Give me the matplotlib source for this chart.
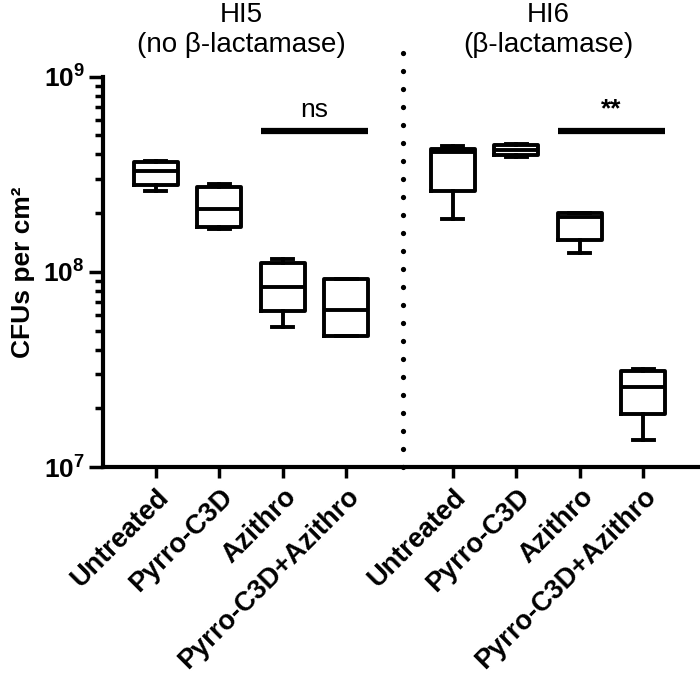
import matplotlib
matplotlib.use("Agg")
import matplotlib.pyplot as plt
import matplotlib.transforms as mtransforms
import numpy as np
from matplotlib.ticker import LogLocator, NullFormatter

plt.rcParams["font.family"] = ["Liberation Sans", "DejaVu Sans"]
plt.rcParams["mathtext.fontset"] = "custom"
plt.rcParams["mathtext.rm"] = "Liberation Sans:bold"
plt.rcParams["mathtext.bf"] = "Liberation Sans:bold"
plt.rcParams["mathtext.it"] = "Liberation Sans:bold"

# box statistics (CFUs per cm2)
categories = ["Untreated", "Pyrro-C3D", "Azithro", "Pyrro-C3D+Azithro"]
strains = ["HI5\n(no \u03b2-lactamase)", "HI6\n(\u03b2-lactamase)"]
signif = ["ns", "**"]

hi5_whislo = [2.61e8, 1.65e8, 5.24e7, 4.71e7]
hi5_q1     = [2.79e8, 1.70e8, 6.31e7, 4.71e7]
hi5_med    = [3.30e8, 2.10e8, 8.42e7, 6.38e7]
hi5_q3     = [3.66e8, 2.73e8, 1.11e8, 9.18e7]
hi5_whishi = [3.68e8, 2.83e8, 1.16e8, 9.18e7]

hi6_whislo = [1.87e8, 3.90e8, 1.25e8, 1.37e7]
hi6_q1     = [2.61e8, 3.95e8, 1.46e8, 1.88e7]
hi6_med    = [4.11e8, 4.20e8, 1.91e8, 2.58e7]
hi6_q3     = [4.25e8, 4.45e8, 2.00e8, 3.12e7]
hi6_whishi = [4.40e8, 4.52e8, 2.00e8, 3.19e7]

bar_level = 5.25e8  # significance bar height
ytick_vals = [1e7, 1e8, 1e9]
ytick_labels = [r"$10^{7}$", r"$10^{8}$", r"$10^{9}$"]


def make_stats(lo, q1, med, q3, hi):
    return [dict(whislo=a, q1=b, med=c, q3=d, whishi=e)
            for a, b, c, d, e in zip(lo, q1, med, q3, hi)]


stats = make_stats(hi5_whislo, hi5_q1, hi5_med, hi5_q3, hi5_whishi) + \
        make_stats(hi6_whislo, hi6_q1, hi6_med, hi6_q3, hi6_whishi)

gap = 4.68
pos = np.r_[np.arange(4), np.arange(4) + gap]
divider = 3.9

fig = plt.figure(figsize=(7, 6.85), dpi=100)
ax = fig.add_axes([0.147, 0.318, 0.85, 0.57])

lw = 2.8
ax.bxp(stats, positions=pos, widths=0.69, capwidths=0.33, showfliers=False,
       boxprops=dict(color="black", linewidth=lw),
       medianprops=dict(color="black", linewidth=lw),
       whiskerprops=dict(color="black", linewidth=lw),
       capprops=dict(color="black", linewidth=lw))

ax.set_yscale("log")
ax.set_ylim(1e7, 1e9)
ax.set_xlim(-0.835, 8.54)

# dotted divider between strains
ax.plot([divider, divider], [1e7, 1.39e9], color="black", linewidth=3.8,
        linestyle=(0, (0.01, 3.4)), dash_capstyle="round", clip_on=False)

# significance bars
for k, lab in enumerate(signif):
    x0 = pos[4 * k + 2] - 0.345
    x1 = pos[4 * k + 3] + 0.345
    ax.plot([x0, x1], [bar_level, bar_level], color="black", linewidth=4.5,
            solid_capstyle="butt")
    ax.text((x0 + x1) / 2, bar_level * 1.12, lab, ha="center", va="bottom",
            fontsize=19, fontweight="bold" if lab == "**" else "normal")

# strain headers
hdr = mtransforms.blended_transform_factory(ax.transData, fig.transFigure)
for k, lab in enumerate(strains):
    xc = pos[4 * k:4 * k + 4].mean() - (0.15 if k == 0 else 0)
    ax.text(xc, 0.997, lab, transform=hdr, ha="center", va="top",
            fontsize=20, linespacing=1.2)

ax.set_xticks(pos)
ax.set_xticklabels(categories * 2, rotation=45, ha="right", rotation_mode="anchor",
                   fontsize=19.5, fontweight="bold")
ax.tick_params(axis="x", length=8, width=2.5, pad=4)

ax.set_yticks(ytick_vals)
ax.set_yticklabels(ytick_labels, fontsize=19)
ax.yaxis.set_minor_locator(LogLocator(base=10, subs=np.arange(2, 10)))
ax.yaxis.set_minor_formatter(NullFormatter())
ax.tick_params(axis="y", which="major", length=10, width=2.5, pad=3)
ax.tick_params(axis="y", which="minor", length=6, width=2.5)
ax.set_ylabel("CFUs per cm\u00b2", fontsize=19, fontweight="bold", labelpad=6)

for side in ["top", "right"]:
    ax.spines[side].set_visible(False)
for side in ["left", "bottom"]:
    ax.spines[side].set_linewidth(3)

fig.savefig("out.png", dpi=100)
